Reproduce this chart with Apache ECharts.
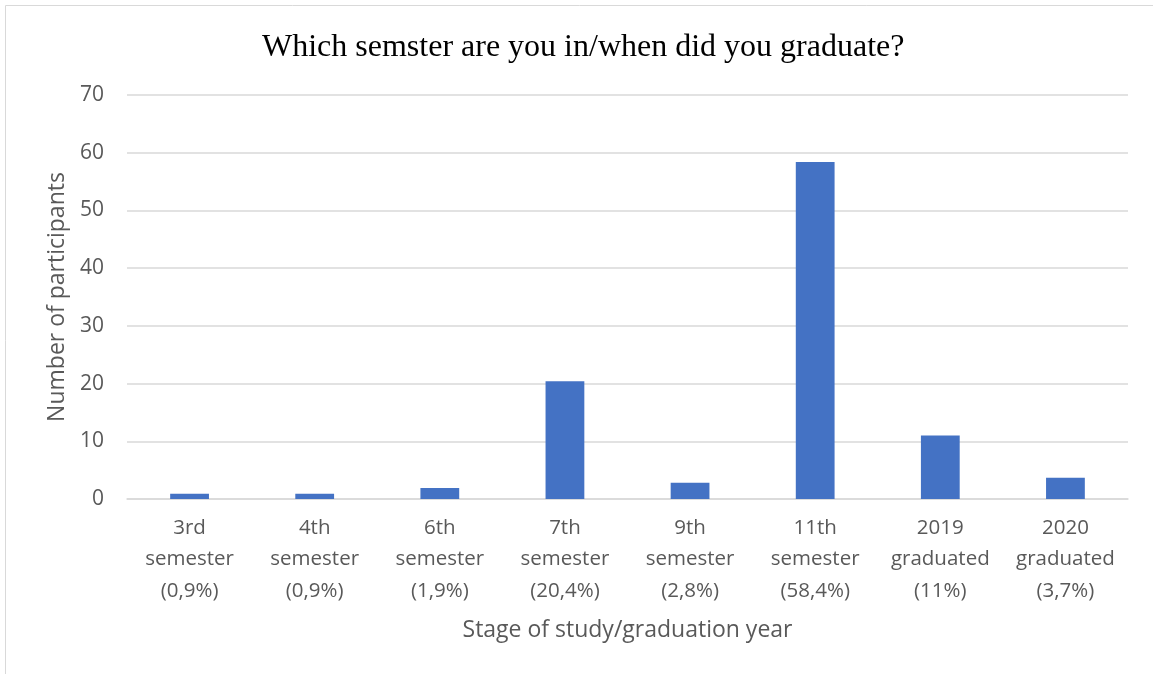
<!DOCTYPE html>
<html><head><meta charset="utf-8">
<script src="https://cdn.jsdelivr.net/npm/echarts@6/dist/echarts.min.js"></script>
<style>html,body{margin:0;padding:0;background:#fff}#c{width:1153px;height:674px}</style>
</head><body><div id="c"></div>
<script>
const categories = ['3rd\nsemester\n(0,9%)','4th\nsemester\n(0,9%)','6th\nsemester\n(1,9%)','7th\nsemester\n(20,4%)','9th\nsemester\n(2,8%)','11th\nsemester\n(58,4%)','2019\ngraduated\n(11%)','2020\ngraduated\n(3,7%)'];
const participants = [0.9, 0.9, 1.9, 20.4, 2.8, 58.4, 11, 3.7];
const yTicks = {min: 0, max: 70, interval: 10};

const chart = echarts.init(document.getElementById('c'), null, {renderer: 'canvas'});
chart.setOption({
  animation: false,
  graphic: [{type: 'rect', shape: {x: 5.5, y: 5.5, width: 1200, height: 700}, style: {fill: 'none', stroke: '#d9d9d9', lineWidth: 1}, silent: true}],
  title: {text: 'Which semster are you in/when did you graduate?', left: 257, top: 27,
    textStyle: {fontFamily: 'Liberation Serif', fontSize: 32, fontWeight: 'normal', color: '#000'}},
  grid: {left: 127, right: 25, top: 95, bottom: 175, containLabel: false},
  xAxis: {type: 'category', data: categories,
    axisLine: {lineStyle: {color: '#d9d9d9', width: 1.5}}, axisTick: {show: false},
    axisLabel: {color: '#595959', fontFamily: 'Open Sans', fontSize: 20.5, lineHeight: 31.5, margin: 13, interval: 0},
    name: 'Stage of study/graduation year', nameLocation: 'middle', nameGap: 120,
    nameTextStyle: {color: '#595959', fontFamily: 'Open Sans', fontSize: 23}},
  yAxis: {type: 'value', min: yTicks.min, max: yTicks.max, interval: yTicks.interval,
    axisLine: {show: false}, axisTick: {show: false},
    splitLine: {lineStyle: {color: '#d9d9d9', width: 1.5}},
    axisLabel: {color: '#595959', fontFamily: 'Open Sans', fontSize: 21, margin: 23},
    name: 'Number of participants', nameLocation: 'middle', nameGap: 57,
    nameTextStyle: {color: '#595959', fontFamily: 'Open Sans', fontSize: 23}},
  series: [{type: 'bar', data: participants, barWidth: '31%', itemStyle: {color: '#4472c4'}}]
});
</script></body></html>
